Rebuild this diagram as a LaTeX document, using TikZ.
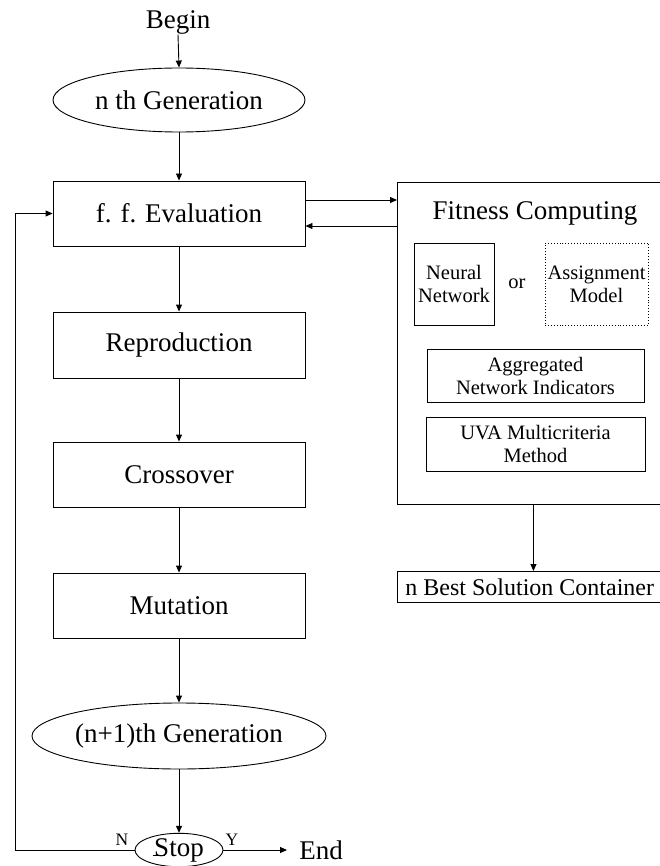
\documentclass[tikz,border=0pt]{standalone}
\usepackage{fontspec}
\setmainfont{Liberation Serif}
\usetikzlibrary{arrows.meta,shapes.geometric}
\begin{document}
\begin{tikzpicture}[x=1pt,y=-1pt,
  line width=0.9pt,
  big/.style={font=\fontsize{27}{30}\selectfont},
  small/.style={font=\fontsize{20.5}{23}\selectfont, align=center},
  lbl/.style={font=\fontsize{17.5}{19}\selectfont, inner sep=0pt},
  box/.style={draw, rectangle, minimum width=252pt, big, inner sep=0pt},
  oval/.style={draw, ellipse, big, inner sep=0pt},
  sbox/.style={draw, rectangle, small, inner sep=0pt},
  arr/.style={-{Triangle[length=7pt,width=6pt]}}
]
\useasboundingbox (0,0) rectangle (660,866);
\clip (0,0) rectangle (660,866);

% left column
\node[big, inner sep=0pt] (begin) at (178,22) {Begin};
\node[oval, minimum width=252pt, minimum height=64pt] (gen1) at (179,100) {n th Generation};
\node[box, minimum height=65pt] (eval) at (179,213.5) {f. f. Evaluation};
\node[box, minimum height=66pt] (repro) at (179,345) {Reproduction};
\node[box, minimum height=65pt] (cross) at (179,474.5) {Crossover};
\node[box, minimum height=65pt] (mut) at (179,605.5) {Mutation};
\node[oval, minimum width=251pt, minimum height=66pt] (gen2) at (179,736) {(n+1)th Generation};
\node[oval, minimum width=88pt, minimum height=32pt] (stop) at (179,850) {Stop};
\node[big, inner sep=0pt, anchor=west] (endn) at (299,850) {End};
\node[lbl] (nl) at (122,840) {N};
\node[lbl] (yl) at (232,840) {Y};

% right part
\node[draw, rectangle, minimum width=272pt, minimum height=322pt, inner sep=0pt, anchor=north west] (fit) at (397,182) {};
\node[big, inner sep=0pt] (fittitle) at (535,213) {Fitness Computing};
\node[sbox, minimum width=80pt, minimum height=82pt] (nn) at (454,284) {Neural\\Network};
\node[small, inner sep=0pt] (or) at (517,284) {or};
\node[sbox, dotted, minimum width=103pt, minimum height=82pt] (am) at (596.5,284) {Assignment\\Model};
\node[sbox, minimum width=217pt, minimum height=53pt] (agg) at (535.5,375.5) {Aggregated\\Network Indicators};
\node[sbox, minimum width=219pt, minimum height=54pt] (uva) at (535.5,444) {UVA Multicriteria\\Method};
\node[draw, rectangle, minimum height=31pt, inner ysep=0pt, inner xsep=8pt, anchor=north west, font=\fontsize{24}{26}\selectfont, text width=256pt, align=flush left] (best) at (397,571) {\mbox{n Best Solution Container}};

% connectors
\draw[arr] (begin.south) -- (gen1.north);
\draw[arr] (gen1.south) -- (eval.north);
\draw[arr] (eval.south) -- (repro.north);
\draw[arr] (repro.south) -- (cross.north);
\draw[arr] (cross.south) -- (mut.north);
\draw[arr] (mut.south) -- (gen2.north);
\draw[arr] (gen2.south) -- (stop.north);
\draw[arr] (stop.east) -- ([xshift=-12pt]endn.west);
\draw[arr] (stop.west) -- ++(-119,0) |- (eval.west);
\draw ([xshift=18pt,yshift=-5pt]stop.west) -- ++(12,0);
\draw[arr] (eval.east |- 0,200) -- (fit.west |- 0,200);
\draw[arr] (fit.west |- 0,226) -- (eval.east |- 0,226);
\draw[arr] (fit.south) -- (best.north -| fit.south);
\end{tikzpicture}
\end{document}
